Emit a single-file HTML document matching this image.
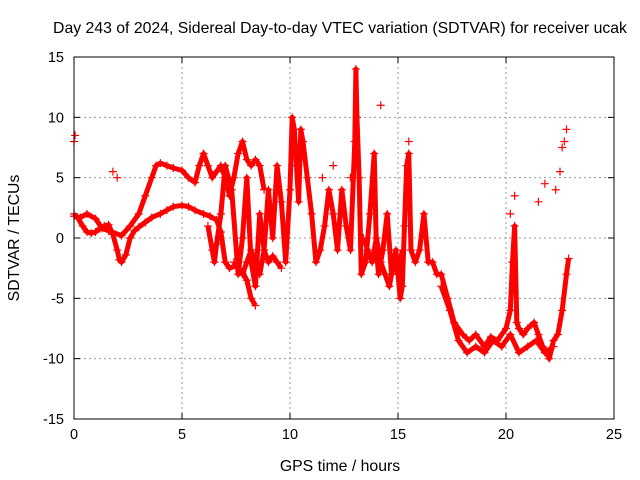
<!DOCTYPE html>
<html><head><meta charset="utf-8"><style>
body{margin:0;background:#fff}
svg{display:block;font-family:"Liberation Sans",sans-serif}
</style></head><body>
<svg id="chart" width="640" height="480" viewBox="0 0 640 480">
<rect width="640" height="480" fill="#fff"/>
<text x="340" y="33" font-size="15.8" text-anchor="middle">Day 243 of 2024, Sidereal Day-to-day VTEC variation (SDTVAR) for receiver ucak</text>
<text x="340" y="471" font-size="15.8" text-anchor="middle">GPS time / hours</text>
<text x="19" y="238" font-size="15.8" text-anchor="middle" transform="rotate(-90 19 238)">SDTVAR / TECUs</text>
<g id="grid"></g><g id="ticks"></g><g id="marks"></g>
<rect x="74" y="57" width="540" height="362" fill="none" stroke="#000" stroke-width="1"/>
</svg>
<script>
const xTicks=[0,5,10,15,20,25];
const yTicks=[-15,-10,-5,0,5,10,15];
// tracks: times (hours) and SDTVAR values (TECU)
const t1=[0,0.2,0.4,0.6,0.8,1,1.2,1.4,1.6,1.8,2,2.1,2.2,2.4,2.6,2.8,3,3.3,3.6,4,4.3,4.6,5,5.3,5.6,6,6.3,6.6,6.8,7,7.2,7.5,7.8,8,8.2,8.4];
const v1=[2,1.6,1,0.5,0.4,0.5,0.8,1,1.1,0.3,-1,-1.8,-2,-1.4,0,0.6,0.9,1.3,1.7,2,2.3,2.6,2.7,2.6,2.3,2,1.8,1.5,0.5,-2,-2.5,-2.3,-2.8,-3.5,-5,-5.6];
const t2=[0,0.3,0.6,1,1.3,1.6,2.2,2.6,3,3.3,3.6,3.8,4,4.3,4.6,5,5.3,5.6,5.8,6,6.2,6.4,6.6,6.8,7,7.2,7.4,7.6,7.8,8,8.2,8.4,8.6,8.8];
const v2=[1.8,1.7,2,1.6,0.8,0.6,0.2,1,2,3.5,5,6,6.2,6,5.8,5.6,5,4.6,6,7,6,5,5.5,6,5,3.5,5,7,8,6.5,6,6.5,6,4];
const t3=[6.2,6.4,6.5,6.6,6.8,7,7.3,7.6,7.8,8,8.2,8.4,8.6,8.8,9,9.2,9.4,9.6,9.8,10,10.1,10.2,10.3,10.4,10.5,10.6,10.8,11,11.2,11.4,11.6,11.8,12,12.2,12.4,12.6,12.8,13,13.05,13.1,13.2,13.3,13.5,13.7,13.9,14,14.1,14.3,14.5,14.7,14.9,15,15.1,15.2,15.3,15.4,15.5,15.6,15.8,16,16.2,16.4,16.6,16.8,17,17.3,17.6,18,18.3,18.6,19,19.3,19.6,20,20.2,20.3,20.4,20.5,20.6,20.8,21,21.3,21.5,21.7,21.9,22,22.2,22.4,22.6,22.8,22.9];
const v3=[1,-1,-2,-0.5,2,6,4,-3,0,5,-2,-4,2,-1,4,0,6,3,-2,4,10,9,6,3,9,8,5,2,-2,-1,1,4,2,-1,4,1,-1,8,14,10,5,-3,-2,2,7,-1,-3,-1,2,-3,-1,-3,-5,-4,1,6,7,-1,-2,-1,2,-2,-2,-3,-3,-5,-7,-8,-8.5,-8,-9,-8.2,-8.5,-7.5,-6,-2,1,-7,-7.5,-8,-7.5,-7,-8,-9,-9.5,-10,-8.5,-8,-6,-3,-1.7];
const t5a=[7.4,7.6,7.8,8,8.2,8.4,8.6,8.8,9,9.2,9.4,9.6];
const v5a=[-2,-2.5,-3,-2,-1,-2,-3,-1,-2,-1.5,-2,-2.5];
const t5b=[13.4,13.6,13.8,14,14.2,14.4,14.6,14.8,15,15.2];
const v5b=[0,-1,-2,0,-2,-3,-4,-2,-3,-1];
const t5c=[17,17.4,17.8,18.2,18.6,19,19.4,19.8,20.2,20.6,21,21.4,21.8,22.2];
const v5c=[-4,-6,-8.5,-9.5,-9,-9.5,-8.5,-9,-8,-9.5,-9,-8.5,-9.5,-9];
const t4=[0,0.05,1.8,2,11.5,12,12.8,14.2,15.5,20.2,20.4,21.5,21.8,22.3,22.5,22.6,22.7,22.8];
const v4=[8,8.5,5.5,5,5,6,5,11,8,2,3.5,3,4.5,4,5.5,7.5,8,9];
const tracks=[[t1,v1,true],[t2,v2,true],[t3,v3,true],[t5a,v5a,true],[t5b,v5b,true],[t5c,v5c,true],[t4,v4,false]];
const X0=74,X1=614,Y0=419,Y1=57;
const xs=t=>X0+(t/25)*(X1-X0);
const ys=v=>Y0-((v+15)/30)*(Y0-Y1);
const NS="http://www.w3.org/2000/svg";
const grid=document.getElementById('grid'),ticks=document.getElementById('ticks'),marks=document.getElementById('marks');
function mk(tag,attrs,parent){const e=document.createElementNS(NS,tag);for(const k in attrs)e.setAttribute(k,attrs[k]);parent.appendChild(e);return e;}
xTicks.forEach(t=>{
 const x=xs(t);
 if(t>0&&t<25){const g=mk('line',{x1:x,x2:x,y1:Y0,y2:Y1,stroke:'#999','stroke-dasharray':'2,3'},grid);
 
 }
 const tl=mk('text',{x:x,y:Y0+20,'font-size':14.5,'text-anchor':'middle'},ticks);tl.textContent=t;
 
 
 mk('line',{x1:x,x2:x,y1:Y0,y2:Y0-6,stroke:'#000'},ticks);
 mk('line',{x1:x,x2:x,y1:Y1,y2:Y1+6,stroke:'#000'},ticks);
});
yTicks.forEach(v=>{
 const y=ys(v);
 if(v>-15&&v<15){const g=mk('line',{x1:X0,x2:X1,y1:y,y2:y,stroke:'#999','stroke-dasharray':'2,3'},grid);
 
 }
 const tl=mk('text',{x:X0-10,y:y+5,'font-size':14.5,'text-anchor':'end'},ticks);tl.textContent=v;
 
 
 mk('line',{x1:X0,x2:X0+6,y1:y,y2:y,stroke:'#000'},ticks);
 mk('line',{x1:X1,x2:X1-6,y1:y,y2:y,stroke:'#000'},ticks);
});
tracks.forEach(([ts,vs,connect])=>{
 if(connect){
  const pl=mk('polyline',{points:ts.map((t,i)=>xs(t)+','+ys(vs[i])).join(' '),fill:'none',stroke:'#f00','stroke-width':5,'stroke-linejoin':'round'},marks);
  
  
 }
 ts.forEach((t,i)=>{
  const x=xs(t),y=ys(vs[i]);
  const p=mk('path',{d:`M${x-4},${y}H${x+4}M${x},${y-4}V${y+4}`,stroke:'#f00','stroke-width':1.2},marks);
  
  
 });
});
</script>
</body></html>
